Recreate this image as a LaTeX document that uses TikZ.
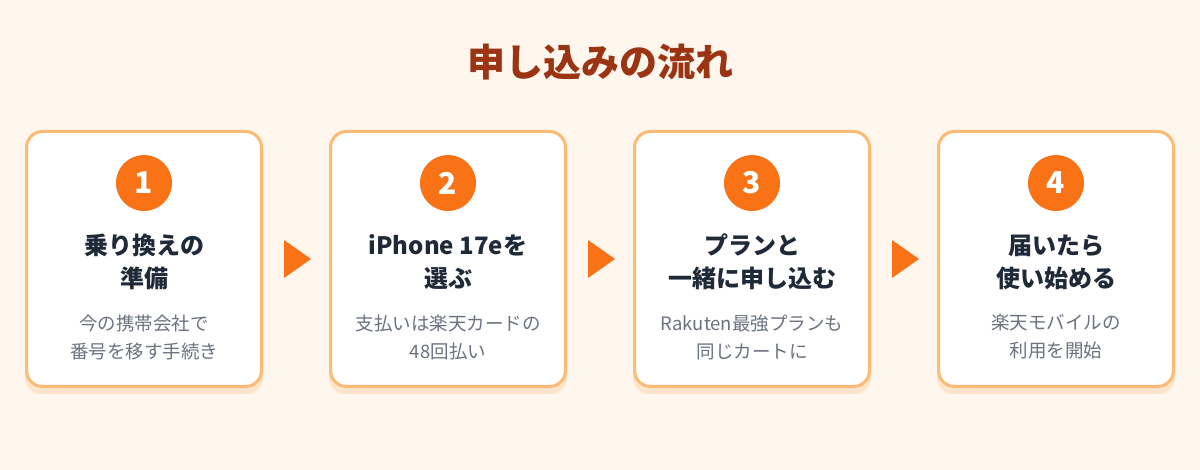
\documentclass[tikz,border=0pt]{standalone}
\usepackage{fontspec}
\setmainfont{Noto Sans CJK JP}
\usetikzlibrary{positioning}
\definecolor{bgc}{HTML}{FFF7ED}
\definecolor{edgec}{HTML}{FDBA74}
\definecolor{shadec}{HTML}{FCE3CE}
\definecolor{dotc}{HTML}{F97316}
\definecolor{titlec}{HTML}{9A3412}
\definecolor{headc}{HTML}{1F2937}
\definecolor{notec}{HTML}{6B7280}
\begin{document}
\begin{tikzpicture}[x=1pt,y=-1pt,
  card/.style={draw=edgec, line width=3pt, fill=white, rounded corners=16pt,
    minimum width=235pt, minimum height=255pt},
  shade/.style={fill=shadec, rounded corners=16pt, minimum width=238pt, minimum height=258pt},
  dot/.style={circle, fill=dotc, minimum size=56pt, inner sep=0pt, text=white,
    font=\fontsize{30}{30}\selectfont\bfseries},
  head/.style={align=center, text=headc, font=\fontsize{24}{33}\selectfont\bfseries},
  note/.style={align=center, text=notec, font=\fontsize{18.5}{28}\selectfont}]
\fill[bgc] (0,0) rectangle (1200,470);
\node[text=titlec, font=\fontsize{38}{38}\selectfont\bfseries] (title) at (600,62) {申し込みの流れ};

\foreach \i/\h/\n in {1/{乗り換えの\\準備}/{今の携帯会社で\\番号を移す手続き},
  2/{iPhone 17eを\\選ぶ}/{支払いは楽天カードの\\48回払い},
  3/{プランと\\一緒に申し込む}/{Rakuten最強プランも\\同じカートに},
  4/{届いたら\\使い始める}/{楽天モバイルの\\利用を開始}}{
  \node[shade] (shade\i) at (144+304*\i-304,265) {};
  \node[card] (card\i) at (144+304*\i-304,259) {};
  \node[dot] (num\i) at (144+304*\i-304,183) {\i};
  \node[head] (head\i) at (144+304*\i-304,262) {\h};
  \node[note] (note\i) at (144+304*\i-304,337) {\n};
}

\foreach \i in {1,2,3}
  \fill[dotc] (card\i.east) ++(21,-19) -- ++(27,19) -- ++(-27,19) -- cycle;
\end{tikzpicture}
\end{document}
